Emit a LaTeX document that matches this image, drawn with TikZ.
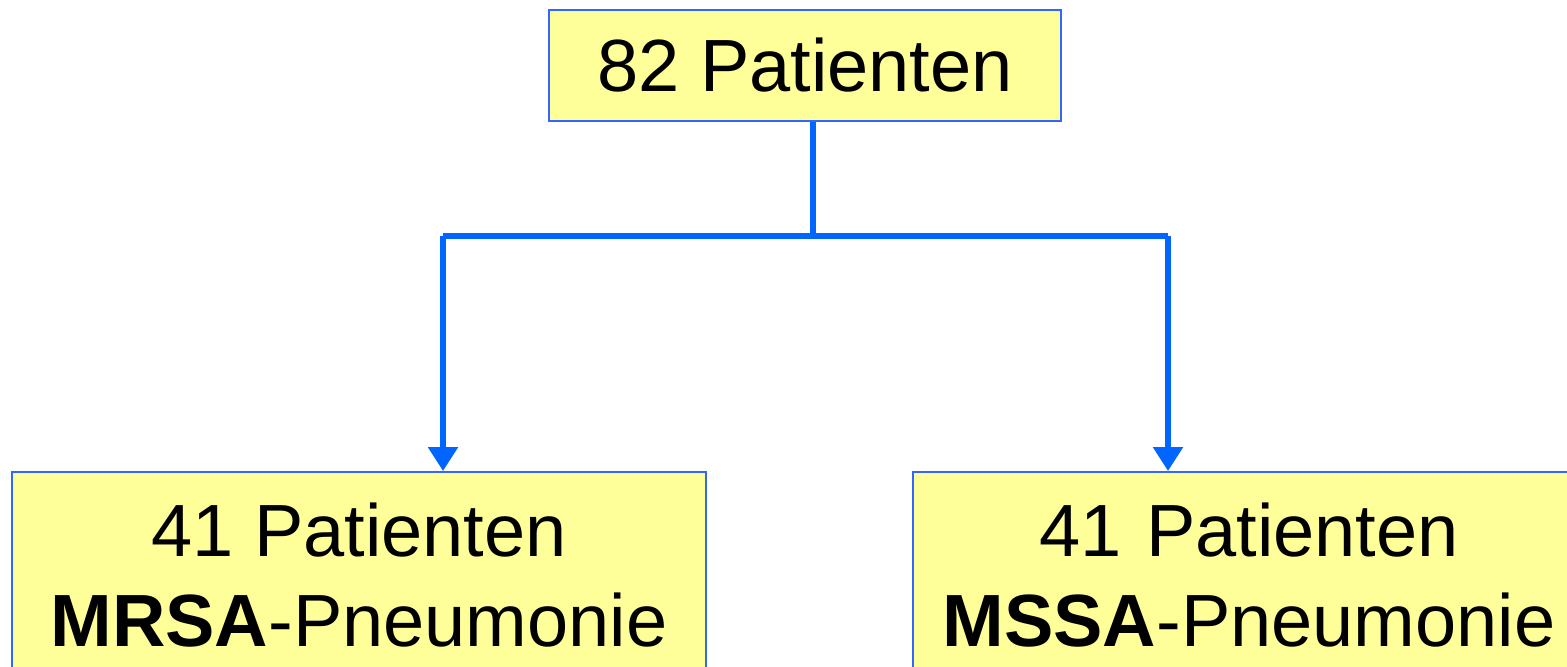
\documentclass[tikz,border=0pt]{standalone}
\usepackage{fontspec}
\setmainfont{Liberation Sans}
\usetikzlibrary{arrows.meta, positioning}
\definecolor{boxfill}{RGB}{255,255,153}
\definecolor{boxline}{RGB}{51,102,255}
\definecolor{connblue}{RGB}{0,102,255}

\begin{document}
\begin{tikzpicture}[x=0.5pt, y=-0.5pt,
  block/.style={draw=boxline, fill=boxfill, line width=1pt, align=center,
                font=\fontsize{37}{45}\selectfont, inner xsep=0pt},
  conn/.style={draw=connblue, line width=2.8pt},
  arrow/.style={conn, -{Triangle[width=14.5pt, length=12pt]}}]

  \clip (0,0) rectangle (1567,666);
  \fill[white] (0,0) rectangle (1567,666);

  \node[block, minimum width=256pt, minimum height=55.5pt] (total) at (805,65.5) {82 Patienten};
  \node[block, anchor=north, minimum width=347pt, inner ysep=15.5pt] (mrsa) at (359,471)
       {41 Patienten\\\textbf{MRSA}-Pneumonie};
  \node[block, anchor=north west, text width=336pt, inner ysep=15.5pt] (mssa) at (912,471)
       {41 Patienten\\\textbf{MSSA}-Pneumonie};

  \coordinate (split)  at (813,236);
  \coordinate (lsplit) at (443,236);
  \coordinate (rsplit) at (1168,236);

  \draw[conn]  (split |- total.south) -- (split);
  \draw[conn]  (lsplit) -- (rsplit);
  \draw[arrow] (lsplit) -- (lsplit |- mrsa.north);
  \draw[arrow] (rsplit) -- (rsplit |- mssa.north);
\end{tikzpicture}
\end{document}
